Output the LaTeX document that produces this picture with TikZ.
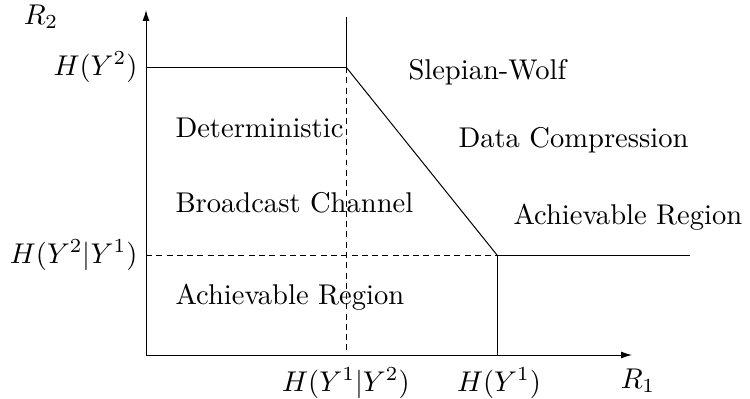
\documentclass[tikz,border=0pt]{standalone}
\usetikzlibrary{arrows.meta}

\begin{document}
\begin{tikzpicture}[x=0.3503pt,y=-0.3503pt,>={Latex[length=3.8pt,width=2.4pt]},line width=0.35pt,
    txt node/.style={inner sep=0pt,font=\normalsize},
    lbl node/.style={inner sep=0pt,font=\normalsize},
    dash line/.style={dash pattern=on 2.1pt off 1.5pt}]
\useasboundingbox (0,0) rectangle (750,398);

            % corner points of the region
            \coordinate (O) at (146,355);
            \coordinate (ytop) at (146,10);
            \coordinate (xend) at (632,355);
            \coordinate (A) at (346,67);
            \coordinate (Atop) at (346,17);
            \coordinate (B) at (497,255);
            \coordinate (Bend) at (690,255);
            \coordinate (Ay) at (146,67);
            \coordinate (By) at (146,255);
            \coordinate (Ax) at (346,355);
            \coordinate (Bx) at (497,355);

            % axes
            \draw[->] (O) to (ytop);
            \draw[->] (O) to (xend);

            % boundary
            \draw[-] (Ay) to (A);
            \draw[-] (A) to (Atop);
            \draw[-] (A) to (B);
            \draw[-] (B) to (Bend);
            \draw[-] (B) to (Bx);
            \draw[dash line] (A) to (Ax);
            \draw[dash line] (By) to (B);

            % axis labels
            \node[lbl node] (r2) at (41,17) {$R_2$};
            \node[lbl node] (r1) at (638,381) {$R_1$};
            \node[lbl node, anchor=east] (h2) at (138,67) {$H(Y^2)$};
            \node[lbl node, anchor=east] (h21) at (138,255) {$H(Y^2|Y^1)$};
            \node[lbl node] (h12) at (346,383) {$H(Y^1|Y^2)$};
            \node[lbl node] (h1) at (499,383) {$H(Y^1)$};

            % region texts
            \node[txt node, anchor=west] (det) at (175,128) {Deterministic};
            \node[txt node, anchor=west] (bc) at (175,203) {Broadcast Channel};
            \node[txt node, anchor=west] (ach1) at (175,297) {Achievable Region};
            \node[txt node, anchor=west] (sw) at (408,72) {Slepian-Wolf};
            \node[txt node, anchor=west] (dc) at (458,140) {Data Compression};
            \node[txt node, anchor=west] (ach2) at (513,217) {Achievable Region};

            ;
        \end{tikzpicture}
\end{document}
